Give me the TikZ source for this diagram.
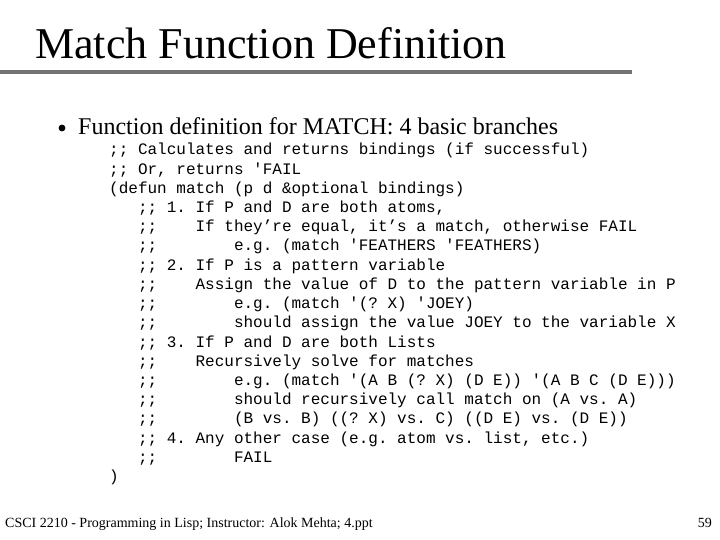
\documentclass[tikz,border=0pt]{standalone}
\usepackage{fontspec}
\setmainfont{Liberation Serif}
\setmonofont{Liberation Mono}
\begin{document}
\begin{tikzpicture}[x=1pt,y=-1pt,
  code/.style={anchor=base west,inner sep=0pt,font=\fontsize{16}{16}\ttfamily}]
\useasboundingbox (0,0) rectangle (720,540);
\node[anchor=base west,inner sep=0pt,font=\fontsize{44}{44}\selectfont] (title) at (35,59) {Match Function Definition};
\draw[line width=3.5pt,color=black!55] (0,72) -- (632,72);
\node[anchor=base west,inner sep=0pt,font=\fontsize{24}{24}\selectfont] (b) at (78,135) {Function definition for MATCH: 4 basic branches};
\fill (62,128) circle (3.4);
\foreach \i/\t in {0/{;; Calculates and returns bindings (if successful)},
 1/{;; Or, returns 'FAIL},
 2/{(defun match (p d \&optional bindings)},
 3/{\ \ \ ;; 1. If P and D are both atoms,},
 4/{\ \ \ ;;\ \ \ \ If they’re equal, it’s a match, otherwise FAIL},
 5/{\ \ \ ;;\ \ \ \ \ \ \ \ e.g. (match 'FEATHERS 'FEATHERS)},
 6/{\ \ \ ;; 2. If P is a pattern variable},
 7/{\ \ \ ;;\ \ \ \ Assign the value of D to the pattern variable in P},
 8/{\ \ \ ;;\ \ \ \ \ \ \ \ e.g. (match '(? X) 'JOEY)},
 9/{\ \ \ ;;\ \ \ \ \ \ \ \ should assign the value JOEY to the variable X},
 10/{\ \ \ ;; 3. If P and D are both Lists},
 11/{\ \ \ ;;\ \ \ \ Recursively solve for matches},
 12/{\ \ \ ;;\ \ \ \ \ \ \ \ e.g. (match '(A B (? X) (D E)) '(A B C (D E)))},
 13/{\ \ \ ;;\ \ \ \ \ \ \ \ should recursively call match on (A vs. A)},
 14/{\ \ \ ;;\ \ \ \ \ \ \ \ (B vs. B) ((? X) vs. C) ((D E) vs. (D E))},
 15/{\ \ \ ;; 4. Any other case (e.g. atom vs. list, etc.)},
 16/{\ \ \ ;;\ \ \ \ \ \ \ \ FAIL},
 17/{)}}
 \node[code] (c\i) at (109,{155+19.2*\i}) {\t};
\node[anchor=base west,inner sep=0pt,font=\fontsize{14}{14}\selectfont] (foot) at (5,527) {CSCI 2210 - Programming in Lisp; Instructor: Alok Mehta; 4.ppt};
\node[anchor=base east,inner sep=0pt,font=\fontsize{14}{14}\selectfont] (pg) at (712,527) {59};
\end{tikzpicture}
\end{document}
